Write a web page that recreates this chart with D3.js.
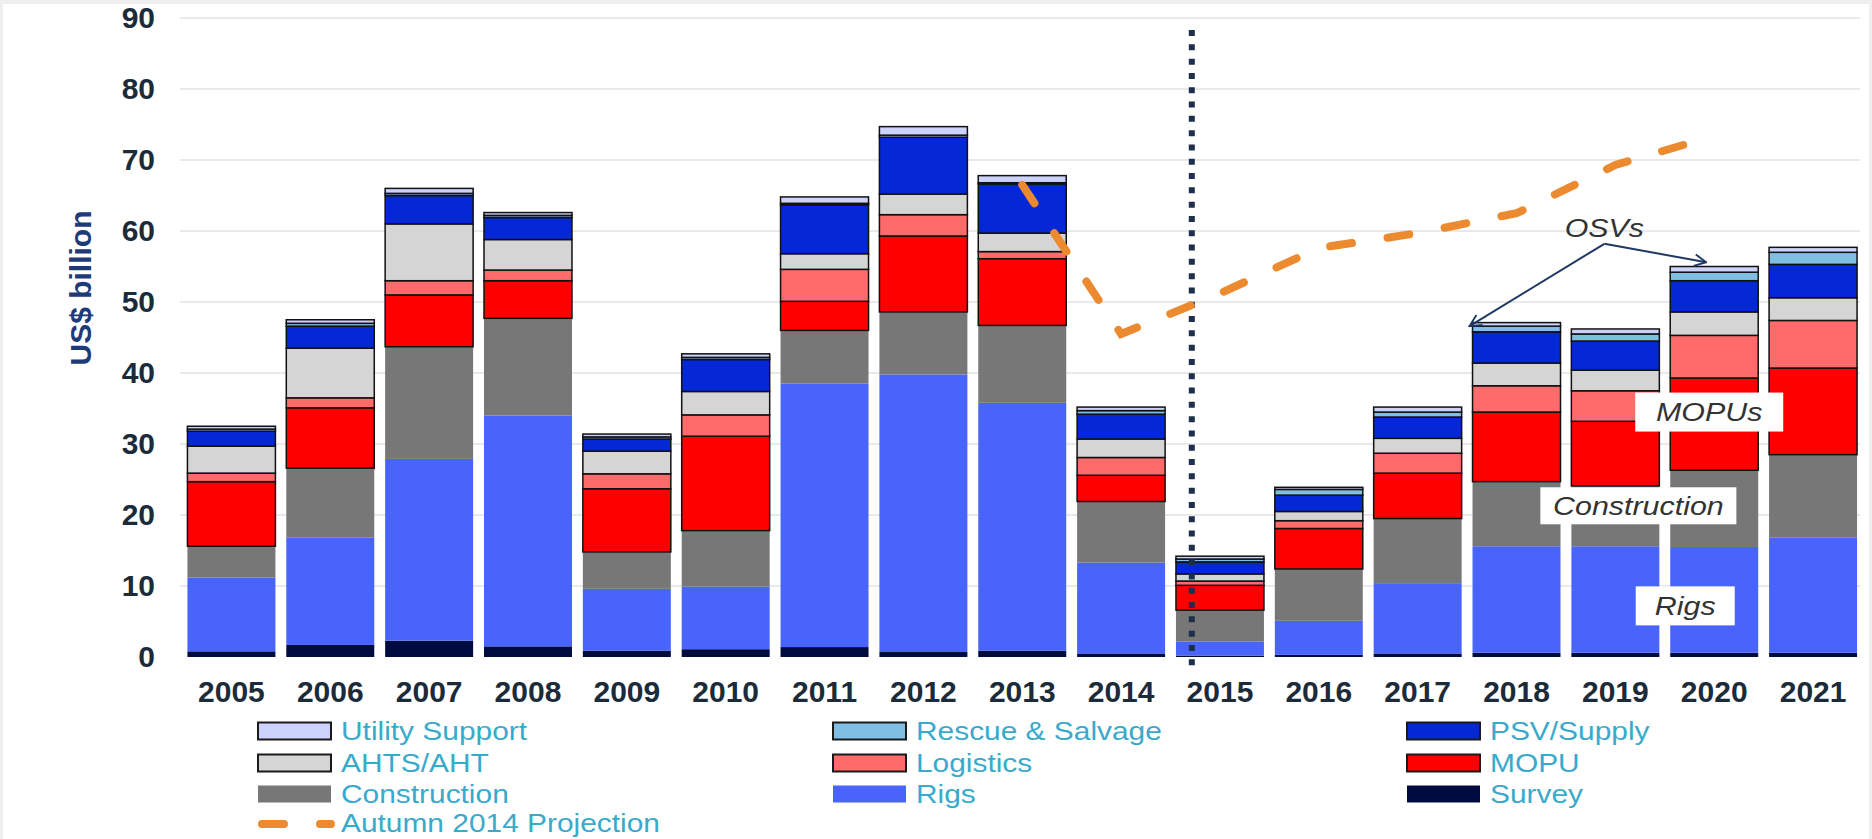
<!DOCTYPE html>
<head>
  <meta charset="utf-8">
  <script src="https://d3js.org/d3.v7.min.js"></script>
  <style>
    body { margin:0; background:#efefef; }
    text { font-family: "Liberation Sans", Arial, sans-serif; }
  </style>
</head>

<body>
<script>
  // categories
  var years = ["2005","2006","2007","2008","2009","2010","2011","2012","2013",
               "2014","2015","2016","2017","2018","2019","2020","2021"];

  // series values, US$ billion (stacked bottom -> top)
  var survey       = [0.8, 1.7, 2.3, 1.5, 0.9, 1.1, 1.4, 0.7, 0.9, 0.5, 0.2, 0.3, 0.5, 0.6, 0.6, 0.6, 0.6];
  var rigs         = [10.4,15.1,25.6,32.5,8.7, 8.8, 37.1,39.1,34.9,12.8,2.0, 4.8, 9.9, 15.0,15.0,14.9,16.2];
  var construction = [4.4, 9.8, 15.8,13.7,5.2, 7.9, 7.5, 8.8, 10.9,8.6, 4.4, 7.3, 9.1, 9.1, 8.5, 10.8,11.7];
  var mopu         = [9.1, 8.5, 7.3, 5.3, 8.9, 13.3,4.1, 10.7,9.4, 3.7, 3.5, 5.7, 6.4, 9.8, 9.1, 13.0,12.2];
  var logistics    = [1.2, 1.4, 2.0, 1.5, 2.1, 3.0, 4.5, 3.0, 1.0, 2.5, 0.6, 1.1, 2.8, 3.7, 4.3, 6.0, 6.7];
  var ahts         = [3.8, 7.0, 8.0, 4.3, 3.2, 3.3, 2.2, 2.9, 2.6, 2.6, 1.0, 1.3, 2.1, 3.2, 2.9, 3.3, 3.2];
  var psv          = [2.1, 3.1, 4.0, 3.1, 1.7, 4.5, 6.9, 8.0, 6.9, 3.5, 1.7, 2.3, 3.0, 4.4, 4.1, 4.4, 4.7];
  var rescue       = [0.3, 0.4, 0.3, 0.3, 0.3, 0.3, 0.2, 0.3, 0.2, 0.5, 0.4, 0.8, 0.7, 0.8, 1.0, 1.2, 1.7];
  var utility      = [0.4, 0.5, 0.7, 0.4, 0.4, 0.5, 0.9, 1.2, 1.0, 0.5, 0.4, 0.3, 0.7, 0.5, 0.7, 0.8, 0.7];

  // Autumn 2014 projection
  var projYears  = ["2013","2014","2015","2016","2017","2018","2019","2020"];
  var projValues = [66.5, 45.5, 51.2, 57.6, 59.7, 62.5, 69.3, 73.4];

  var yTicks = [0, 10, 20, 30, 40, 50, 60, 70, 80, 90];

  var series = [
    {key:"Survey",           values:survey,       color:"#000c40", stroke:false},
    {key:"Rigs",             values:rigs,         color:"#4864fb", stroke:false},
    {key:"Construction",     values:construction, color:"#777777", stroke:false},
    {key:"MOPU",             values:mopu,         color:"#ff0000", stroke:true},
    {key:"Logistics",        values:logistics,    color:"#ff6b6b", stroke:true},
    {key:"AHTS/AHT",         values:ahts,         color:"#d5d5d5", stroke:true},
    {key:"PSV/Supply",       values:psv,          color:"#0528d6", stroke:true},
    {key:"Rescue & Salvage", values:rescue,       color:"#80bfe4", stroke:true},
    {key:"Utility Support",  values:utility,      color:"#ccd2fa", stroke:true}
  ];
  var legendOrder = ["Utility Support","Rescue & Salvage","PSV/Supply",
                     "AHTS/AHT","Logistics","MOPU",
                     "Construction","Rigs","Survey"];

  var W = 1872, H = 839;
  var svg = d3.select("body").append("svg")
    .attr("width", W).attr("height", H)
    .style("display", "block");

  svg.append("rect").attr("x", 3).attr("y", 4)
    .attr("width", W - 6).attr("height", H - 4).attr("fill", "#fff");

  var x = d3.scaleBand().domain(years).range([182, 1862.5])
    .paddingInner(0.11).paddingOuter(0.055);
  var y = d3.scaleLinear().domain([0, 90]).range([657, 18]);

  // gridlines
  svg.append("g").selectAll("line")
    .data(yTicks.slice(1))
    .enter().append("line")
    .attr("x1", 180).attr("x2", 1860)
    .attr("y1", function(d) { return y(d); })
    .attr("y2", function(d) { return y(d); })
    .attr("stroke", "#e2e2e2").attr("stroke-width", 1.5);

  // stacked bars
  var rows = years.map(function(yr, i) {
    var r = {year: yr};
    series.forEach(function(s) { r[s.key] = s.values[i]; });
    return r;
  });
  var stacked = d3.stack().keys(series.map(function(s) { return s.key; }))(rows);

  svg.append("g").selectAll("g")
    .data(stacked)
    .enter().append("g")
    .each(function(layer, li) {
      var s = series[li];
      d3.select(this).selectAll("rect")
        .data(layer)
        .enter().append("rect")
        .attr("x", function(d) { return x(d.data.year); })
        .attr("width", x.bandwidth())
        .attr("y", function(d) { return y(d[1]); })
        .attr("height", function(d) { return y(d[0]) - y(d[1]); })
        .attr("fill", s.color)
        .attr("stroke", s.stroke ? "#111" : "none")
        .attr("stroke-width", 1.5);
    });

  // axes
  var yAxis = svg.append("g")
    .attr("transform", "translate(180,0)")
    .call(d3.axisLeft(y).tickValues(yTicks).tickSize(0).tickPadding(25));
  yAxis.select(".domain").remove();
  yAxis.selectAll("text")
    .style("font-size", "30px").style("font-weight", "bold").attr("fill", "#1c2b3a");

  var xAxis = svg.append("g")
    .attr("transform", "translate(0," + y(0) + ")")
    .call(d3.axisBottom(x).tickSize(0).tickPadding(24));
  xAxis.select(".domain").remove();
  xAxis.selectAll("text")
    .style("font-size", "30px").style("font-weight", "bold").attr("fill", "#1c2b3a");

  svg.append("text")
    .attr("transform", "translate(80,288) rotate(-90)")
    .attr("text-anchor", "middle")
    .attr("dominant-baseline", "central")
    .style("font-size", "30px").style("font-weight", "bold")
    .attr("fill", "#1f3a78")
    .text("US$ billion");

  // 2015 divider
  var divX = x("2015") + x.bandwidth() * 0.18;
  svg.append("line")
    .attr("x1", divX).attr("x2", divX)
    .attr("y1", y(88.3)).attr("y2", y(0) + 11)
    .attr("stroke", "#1d2f4a").attr("stroke-width", 6)
    .attr("stroke-dasharray", "6,8.3");

  // projection line
  var line = d3.line()
    .x(function(d, i) { return x(projYears[i]) + x.bandwidth() / 2; })
    .y(function(d) { return y(d); });
  svg.append("path")
    .datum(projValues)
    .attr("d", line)
    .attr("fill", "none")
    .attr("stroke", "#ec8a2f").attr("stroke-width", 8)
    .attr("stroke-linecap", "round")
    .attr("stroke-dasharray", "22,36");

  // annotations
  var defs = svg.append("defs");
  defs.append("marker")
    .attr("id", "arr").attr("viewBox", "0 0 12 12")
    .attr("refX", 11).attr("refY", 6)
    .attr("markerWidth", 14).attr("markerHeight", 14)
    .attr("markerUnits", "userSpaceOnUse")
    .attr("orient", "auto")
    .append("path").attr("d", "M1,1 L11,6 L1,11")
    .attr("fill", "none").attr("stroke", "#1f3864").attr("stroke-width", 1.6);

  var osvX = x("2019") + x.bandwidth() / 2 - 11;
  var arrows = [
    {x: x("2018") - 3, v: 46.6},
    {x: x("2020") + 36, v: 55.6}
  ];
  svg.append("g").selectAll("line")
    .data(arrows)
    .enter().append("line")
    .attr("x1", osvX).attr("y1", y(58.2))
    .attr("x2", function(d) { return d.x; })
    .attr("y2", function(d) { return y(d.v); })
    .attr("stroke", "#1f3864").attr("stroke-width", 2)
    .attr("marker-end", "url(#arr)");

  function note(txt, cx, cv, bw, bh, box) {
    var cy = y(cv);
    if (box) {
      svg.append("rect")
        .attr("x", cx - bw / 2).attr("y", cy - bh / 2)
        .attr("width", bw).attr("height", bh)
        .attr("fill", "#fff");
    }
    svg.append("text")
      .attr("transform", "translate(" + cx + "," + (cy + 9) + ") scale(1.17,1)")
      .attr("text-anchor", "middle")
      .style("font-size", "26px").style("font-style", "italic")
      .attr("fill", "#333")
      .text(txt);
  }
  note("OSVs", osvX, 60.4, 0, 0, false);
  note("MOPUs", x("2020") + 39, 34.5, 148, 39, true);
  note("Construction", x("2019") + x.bandwidth() / 2 + 23, 21.3, 196, 37, true);
  note("Rigs", x("2020") + 15, 7.2, 99, 39, true);

  // legend
  var colX = [258, 833, 1407], rowY = [731, 763, 794, 824];
  var legend = svg.append("g").selectAll("g")
    .data(legendOrder)
    .enter().append("g")
    .attr("transform", function(d, i) {
      return "translate(" + colX[i % 3] + "," + rowY[Math.floor(i / 3)] + ")";
    });
  legend.append("rect")
    .attr("x", 0).attr("y", -8.5).attr("width", 73).attr("height", 17)
    .attr("fill", function(d) { return series.find(function(s) { return s.key === d; }).color; })
    .attr("stroke", function(d) {
      var s = series.find(function(s) { return s.key === d; });
      return s.stroke ? "#1a1a1a" : "none";
    })
    .attr("stroke-width", 2);
  legend.append("text")
    .attr("transform", "translate(83,9) scale(1.15,1)")
    .style("font-size", "26px")
    .attr("fill", "#3aaacb")
    .text(function(d) { return d; });

  var projLeg = svg.append("g").attr("transform", "translate(258," + rowY[3] + ")");
  projLeg.append("line")
    .attr("x1", 4).attr("x2", 73)
    .attr("stroke", "#ec8a2f").attr("stroke-width", 8)
    .attr("stroke-linecap", "round")
    .attr("stroke-dasharray", "22,36");
  projLeg.append("text")
    .attr("transform", "translate(83,8) scale(1.15,1)")
    .style("font-size", "26px")
    .attr("fill", "#3aaacb")
    .text("Autumn 2014 Projection");
</script>
</body>
